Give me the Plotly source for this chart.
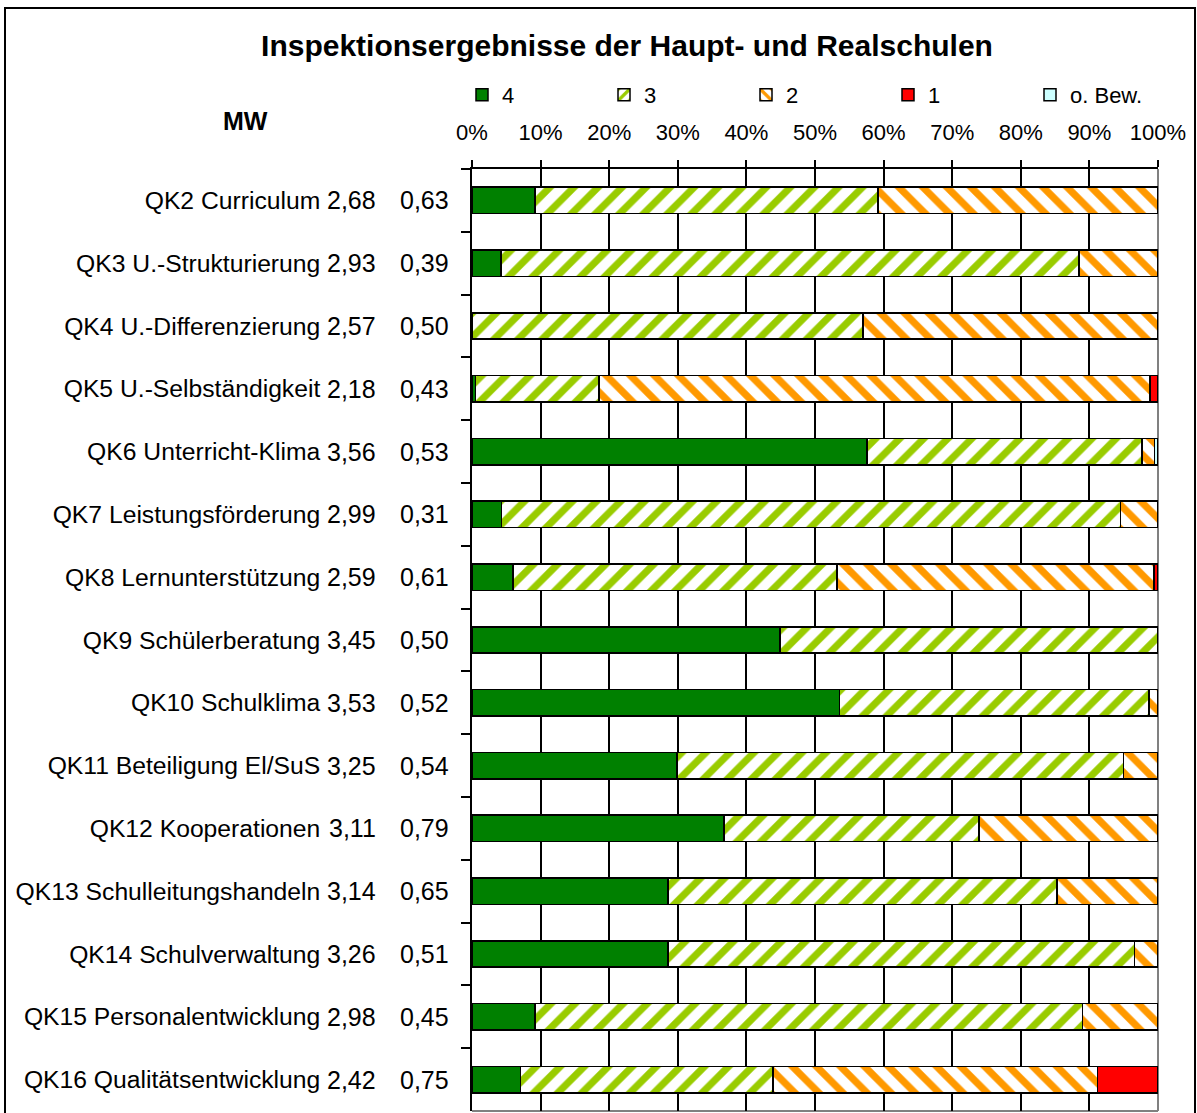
import plotly.graph_objects as go

categories = ["QK2 Curriculum", "QK3 U.-Strukturierung", "QK4 U.-Differenzierung",
              "QK5 U.-Selbständigkeit", "QK6 Unterricht-Klima", "QK7 Leistungsförderung",
              "QK8 Lernunterstützung", "QK9 Schülerberatung", "QK10 Schulklima",
              "QK11 Beteiligung El/SuS", "QK12 Kooperationen", "QK13 Schulleitungshandeln",
              "QK14 Schulverwaltung", "QK15 Personalentwicklung", "QK16 Qualitätsentwicklung"]
mw = ["2,68", "2,93", "2,57", "2,18", "3,56", "2,99", "2,59", "3,45", "3,53", "3,25",
      "3,11", "3,14", "3,26", "2,98", "2,42"]
sd = ["0,63", "0,39", "0,50", "0,43", "0,53", "0,31", "0,61", "0,50", "0,52", "0,54",
      "0,79", "0,65", "0,51", "0,45", "0,75"]

# percentages per rating
v4 = [9.2, 4.2, None, 0.5, 57.6, 4.3, 6.0, 44.9, 53.6, 29.9, 36.7, 28.6, 28.6, 9.2, 7.1]
v3 = [50.0, 84.3, 57.0, 18.0, 40.1, 90.2, 47.2, 55.1, 45.1, 65.1, 37.2, 56.7, 68.0, 79.8, 36.8]
v2 = [40.8, 11.5, 43.0, 80.3, 1.8, 5.5, 46.2, None, 1.3, 5.0, 26.1, 14.7, 3.4, 11.0, 47.3]
v1 = [None, None, None, 1.2, None, None, 0.6, None, None, None, None, None, None, None, 8.8]
vo = [None, None, None, None, 0.5, None, None, None, None, None, None, None, None, None, None]

series_names = ["4", "3", "2", "1", "o. Bew."]
series_values = [v4, v3, v2, v1, vo]
xticks = list(range(0, 101, 10))
xticklabels = [f"{v}%" for v in xticks]

W, H = 1197, 1113
L, R, T, B = 472, W - 1158, 169, H - 1111
PW, PH = W - L - R, H - T - B

def px_x(p):
    return (p - L) / PW

def px_y(p):
    return (H - B - p) / PH

FONT = "Liberation Sans, Arial, sans-serif"

styles = {
    "4": dict(color="#008000"),
    "3": dict(color="white", pattern=dict(shape="/", fgcolor="#99CC00", bgcolor="white",
                                         size=17, solidity=0.42, fgopacity=1,
                                         fillmode="replace")),
    "2": dict(color="white", pattern=dict(shape="\\", fgcolor="#FF9900", bgcolor="white",
                                         size=17, solidity=0.42, fgopacity=1,
                                         fillmode="replace")),
    "1": dict(color="#FF0000"),
    "o. Bew.": dict(color="#CCFFFF"),
}

fig = go.Figure()
for name, vals in zip(series_names, series_values):
    m = dict(styles[name])
    m["line"] = dict(color="black", width=1.5)
    fig.add_trace(go.Bar(y=categories, x=vals, name=name, orientation="h",
                         marker=m, width=0.42, hoverinfo="x+y+name"))

annotations = []
for c, a, s in zip(categories, mw, sd):
    annotations.append(dict(x=px_x(377.5), y=c, xref="paper", yref="y", text=a,
                            showarrow=False, xanchor="right", yanchor="middle",
                            font=dict(size=25, family=FONT, color="black")))
    annotations.append(dict(x=px_x(450.5), y=c, xref="paper", yref="y", text=s,
                            showarrow=False, xanchor="right", yanchor="middle",
                            font=dict(size=25, family=FONT, color="black")))
annotations.append(dict(x=px_x(245.5), y=px_y(121), xref="paper", yref="paper",
                        text="<b>MW</b>", showarrow=False, xanchor="center",
                        yanchor="middle", font=dict(size=25, family=FONT, color="black")))

shapes = [
    # outer chart border
    dict(type="rect", xref="paper", yref="paper", x0=px_x(5), x1=px_x(1195),
         y0=px_y(1125), y1=px_y(8), line=dict(color="black", width=2), layer="above"),
    # gray plot-area border (right, bottom)
    dict(type="line", xref="paper", yref="paper", x0=1, x1=1, y0=0, y1=1,
         line=dict(color="#808080", width=2), layer="below"),
    dict(type="line", xref="paper", yref="paper", x0=0, x1=1, y0=0, y1=0,
         line=dict(color="#808080", width=2), layer="below"),
]

fig.update_layout(
    width=W, height=H,
    margin=dict(l=L, r=R, t=T, b=B, pad=0),
    paper_bgcolor="white", plot_bgcolor="white",
    barmode="stack",
    font=dict(family=FONT, color="black", size=22),
    title=dict(text="<b>Inspektionsergebnisse der Haupt- und Realschulen</b>",
               x=627 / W, xanchor="center", y=1 - 45 / H, yanchor="middle",
               xref="container", yref="container",
               font=dict(size=30, family=FONT, color="black")),
    legend=dict(orientation="h", x=px_x(462), xanchor="left", y=px_y(95),
                yanchor="middle", font=dict(size=22, family=FONT, color="black"),
                entrywidth=97, entrywidthmode="pixels", itemwidth=30,
                bgcolor="rgba(0,0,0,0)", traceorder="normal"),
    xaxis=dict(side="top", range=[0, 100], tickvals=xticks, ticktext=xticklabels,
               showgrid=True, gridcolor="black", gridwidth=1.5,
               showline=True, linecolor="black", linewidth=1.5,
               ticks="outside", ticklen=7, tickcolor="black", tickwidth=1.5,
               zeroline=False, tickfont=dict(size=22, family=FONT, color="black"),
               ticklabelstandoff=11, fixedrange=True),
    yaxis=dict(autorange="reversed", type="category", showgrid=False,
               showline=True, linecolor="black", linewidth=1.5,
               ticks="outside", ticklen=9, tickcolor="black", tickwidth=1.5,
               tickson="boundaries", tickfont=dict(size=24.7, family=FONT, color="black"),
               ticklabelstandoff=145, fixedrange=True),
    annotations=annotations,
    shapes=shapes,
    showlegend=True,
)

fig.write_html("out.html", post_script="document.body.style.margin='0';",
               config={"displayModeBar": False})
